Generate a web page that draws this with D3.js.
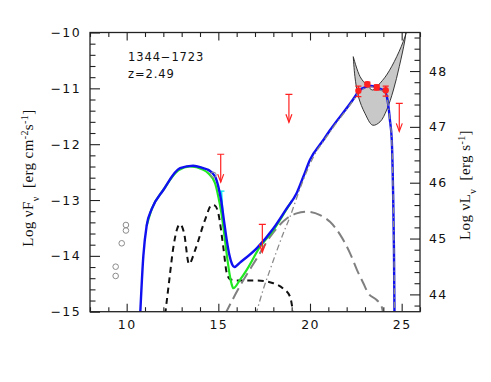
<!DOCTYPE html>
<html>
<head>
<meta charset="utf-8">
<script src="https://cdn.jsdelivr.net/npm/d3@7"></script>
<style>
  body { margin: 0; background: #fff; }
  svg { display: block; }
</style>
</head>
<body>
<script>
// log nu (Hz) vs log nuF_nu for 1344-1723, z=2.49
var xDomain = [8, 26];
var yDomain = [-15, -10];
var lumOffset = 58.69; // log nuL_nu = log nuF_nu + offset

var xMajor = [10, 15, 20, 25];
var yMajor = [-15, -14, -13, -12, -11, -10];
var lumMajor = [44, 45, 46, 47, 48];

// model components [log nu, log nuF_nu]
var totalSED = [[10.73,-15.1],[10.91,-14.0],[11.09,-13.46],[11.37,-13.16],[12.0,-12.82],[12.91,-12.43],[13.63,-12.385],[14.18,-12.43],[14.45,-12.46],[14.82,-12.58],[15.0,-12.76],[15.15,-13.0],[15.3,-13.35],[15.45,-13.7],[15.6,-13.98],[15.75,-14.15],[15.87,-14.2],[16.18,-14.12],[17.09,-13.865],[18.0,-13.51],[18.73,-13.15],[19.27,-12.88],[19.64,-12.58],[20.0,-12.28],[20.73,-11.925],[21.09,-11.75],[22.45,-11.15],[22.63,-11.06],[23.09,-10.97],[23.37,-10.958],[23.73,-11.0],[24.09,-11.06],[24.27,-11.3],[24.36,-11.57],[24.46,-11.925],[24.53,-12.82],[24.58,-13.9],[24.61,-15.1]];
var syncSED = [[11.09,-13.46],[11.37,-13.16],[12.0,-12.82],[12.82,-12.47],[13.45,-12.4],[14.18,-12.46],[14.45,-12.52],[14.82,-12.7],[15.0,-12.94],[15.15,-13.2],[15.3,-13.55],[15.45,-13.95],[15.6,-14.3],[15.72,-14.5],[15.82,-14.58],[16.18,-14.43],[16.55,-14.25],[17.27,-13.84],[18.0,-13.54],[18.64,-13.21],[19.0,-13.02]];
var diskSED = [[12.1,-15.05],[12.3,-14.5],[12.55,-13.84],[12.73,-13.54],[12.91,-13.435],[13.13,-13.59],[13.4,-14.146],[13.73,-13.9],[14.27,-13.36],[14.64,-13.09],[14.82,-13.1],[15.0,-13.24],[15.27,-13.84],[15.46,-14.31],[15.64,-14.42],[16.0,-14.44],[17.09,-14.44],[18.0,-14.49],[18.55,-14.59],[18.91,-14.73],[19.09,-15.05]];
var sscSED = [[15.36,-15.05],[16.18,-14.54],[17.09,-14.05],[17.82,-13.66],[18.73,-13.33],[19.27,-13.24],[19.82,-13.21],[20.55,-13.27],[21.09,-13.39],[21.64,-13.62],[22.18,-13.95],[22.56,-14.25],[22.91,-14.49],[23.18,-14.67],[23.64,-14.79],[23.91,-14.91],[24.0,-15.05]];
var ecSED = [[17.05,-15.05],[17.45,-14.6],[17.82,-14.25],[18.54,-13.6],[18.91,-13.3],[19.45,-12.8],[19.91,-12.42],[20.37,-12.12],[20.73,-11.95],[21.09,-11.78],[22.45,-11.17],[22.63,-11.08],[23.09,-10.99],[23.37,-10.975],[23.73,-11.015],[24.09,-11.075],[24.27,-11.31],[24.36,-11.58],[24.46,-11.93],[24.53,-12.83],[24.58,-13.9],[24.61,-15.1]];
var uvSED = [[15.17,-12.84],[15.21,-13.05],[15.25,-13.25]];

// archival data (open grey circles)
var archX = [9.96, 9.96, 9.73, 9.40, 9.40, 14.73];
var archY = [-13.447, -13.546, -13.775, -14.194, -14.36, -12.55];

// Fermi/LAT points
var fermiX = [22.64, 23.13, 23.64, 24.13];
var fermiY = [-11.042, -10.928, -10.981, -11.035];
var fermiLo = [-11.15, -10.97, -11.03, -11.14];
var fermiHi = [-10.96, -10.89, -10.94, -10.96];

// upper limits
var ulX = [15.13, 17.4, 18.85, 24.87];
var ulY = [-12.18, -13.435, -11.107, -11.27];
var ulLength = 0.5;

// Fermi butterfly
var bowUpper = [[22.36,-10.433],[22.73,-10.79],[23.09,-10.94],[23.42,-11.03],[23.73,-10.94],[24.18,-10.76],[24.73,-10.433],[25.18,-10.075],[25.4,-9.8]];
var bowLower = [[22.36,-10.433],[22.45,-10.79],[22.64,-11.15],[23.0,-11.45],[23.42,-11.66],[23.82,-11.6],[24.18,-11.39],[24.55,-11.03],[24.87,-10.61],[25.18,-10.13],[25.32,-9.8]];

var W = 491, H = 382;
var pLeft = 90, pRight = 420, pTop = 32.5, pBottom = 311.7;

var svg = d3.select("body").append("svg").attr("width", W).attr("height", H);

var x = d3.scaleLinear().domain(xDomain).range([pLeft, pRight]);
var y = d3.scaleLinear().domain(yDomain).range([pBottom, pTop]);
var yL = d3.scaleLinear().domain([yDomain[0] + lumOffset, yDomain[1] + lumOffset]).range([pBottom, pTop]);

svg.append("clipPath").attr("id", "plotClip")
    .append("rect")
    .attr("x", pLeft).attr("y", pTop)
    .attr("width", pRight - pLeft).attr("height", pBottom - pTop);

var plot = svg.append("g").attr("clip-path", "url(#plotClip)");

var line = d3.line()
    .x(function (d) { return x(d[0]); })
    .y(function (d) { return y(d[1]); })
    .curve(d3.curveMonotoneX);

// butterfly
var bow = bowUpper.concat(bowLower.slice().reverse());
plot.append("path")
    .attr("d", d3.line().x(function (d) { return x(d[0]); }).y(function (d) { return y(d[1]); }).curve(d3.curveCatmullRom)(bow) + "Z")
    .attr("fill", "#c8c8c8")
    .attr("stroke", "#222")
    .attr("stroke-width", 0.9);

plot.append("path").datum(diskSED)
    .attr("d", line).attr("fill", "none")
    .attr("stroke", "#111").attr("stroke-width", 2)
    .attr("stroke-dasharray", "6,4.5");

plot.append("path").datum(sscSED)
    .attr("d", line).attr("fill", "none")
    .attr("stroke", "#808080").attr("stroke-width", 2)
    .attr("stroke-dasharray", "12,5.5");

plot.append("path").datum(syncSED)
    .attr("d", line).attr("fill", "none")
    .attr("stroke", "#22e822").attr("stroke-width", 2.2);

plot.append("path").datum(uvSED)
    .attr("d", line).attr("fill", "none")
    .attr("stroke", "#00e5ee").attr("stroke-width", 1.6);
plot.append("line")
    .attr("x1", x(uvSED[0][0]) - 3).attr("x2", x(uvSED[0][0]) + 3)
    .attr("y1", y(uvSED[0][1])).attr("y2", y(uvSED[0][1]))
    .attr("stroke", "#00e5ee").attr("stroke-width", 1.2);

plot.append("path").datum(totalSED)
    .attr("d", line).attr("fill", "none")
    .attr("stroke", "#1010f0").attr("stroke-width", 2.4);

plot.append("path").datum(ecSED)
    .attr("d", line).attr("fill", "none")
    .attr("stroke", "#8a8a8a").attr("stroke-width", 1.3)
    .attr("stroke-dasharray", "6,3,1.5,3");

// archival points
plot.selectAll("circle.arch")
    .data(archX)
    .enter()
    .append("circle")
    .attr("class", "arch")
    .attr("cx", function (d) { return x(d); })
    .attr("cy", function (d, i) { return y(archY[i]); })
    .attr("r", 2.8)
    .attr("fill", "none")
    .attr("stroke", "#8c8c8c")
    .attr("stroke-width", 1);

var red = "#ff2020";

// Fermi points
var fermi = plot.selectAll("g.fermi")
    .data(fermiX)
    .enter()
    .append("g")
    .attr("class", "fermi");
fermi.append("line")
    .attr("x1", function (d) { return x(d); })
    .attr("x2", function (d) { return x(d); })
    .attr("y1", function (d, i) { return y(fermiLo[i]); })
    .attr("y2", function (d, i) { return y(fermiHi[i]); })
    .attr("stroke", red).attr("stroke-width", 1.3);
[fermiLo, fermiHi].forEach(function (arr) {
    fermi.append("line")
        .attr("x1", function (d) { return x(d) - 3; })
        .attr("x2", function (d) { return x(d) + 3; })
        .attr("y1", function (d, i) { return y(arr[i]); })
        .attr("y2", function (d, i) { return y(arr[i]); })
        .attr("stroke", red).attr("stroke-width", 1.3);
});
fermi.append("circle")
    .attr("cx", function (d) { return x(d); })
    .attr("cy", function (d, i) { return y(fermiY[i]); })
    .attr("r", 3.2)
    .attr("fill", red);

// upper limits
var ul = plot.selectAll("g.ul")
    .data(ulX)
    .enter()
    .append("g")
    .attr("class", "ul");
ul.append("line")
    .attr("x1", function (d) { return x(d); })
    .attr("x2", function (d) { return x(d); })
    .attr("y1", function (d, i) { return y(ulY[i]); })
    .attr("y2", function (d, i) { return y(ulY[i] - ulLength); })
    .attr("stroke", red).attr("stroke-width", 1.2);
ul.append("line")
    .attr("x1", function (d) { return x(d) - 3.5; })
    .attr("x2", function (d) { return x(d) + 3.5; })
    .attr("y1", function (d, i) { return y(ulY[i]); })
    .attr("y2", function (d, i) { return y(ulY[i]); })
    .attr("stroke", red).attr("stroke-width", 1.2);
ul.append("path")
    .attr("d", function (d, i) {
        var tx = x(d), ty = y(ulY[i] - ulLength);
        return "M" + (tx - 3) + "," + (ty - 8) + "L" + tx + "," + ty + "L" + (tx + 3) + "," + (ty - 8);
    })
    .attr("fill", "none")
    .attr("stroke", red).attr("stroke-width", 1.2);

// axes
function fmt(d) { return d < 0 ? "\u2212" + Math.abs(d) : String(d); }
function range(a, b, s) {
    var out = [];
    for (var v = a; v <= b + 1e-9; v += s) out.push(Math.round(v * 10) / 10);
    return out;
}
var xMinor = range(8, 26, 1).filter(function (d) { return xMajor.indexOf(d) < 0; });
var yMinor = range(-15, -10, 0.2).filter(function (d) { return Math.abs(d - Math.round(d)) > 1e-6; });
var lumMinor = range(43.8, 48.6, 0.2).filter(function (d) { return Math.abs(d - Math.round(d)) > 1e-6; });

function styleAxis(g) {
    g.select(".domain").remove();
    g.selectAll(".tick line").attr("stroke", "#222").attr("stroke-width", 1.1);
    g.selectAll("text")
        .attr("fill", "#111")
        .attr("font-family", "DejaVu Sans, sans-serif")
        .attr("font-size", 12.5)
        .attr("letter-spacing", 1.4);
}

svg.append("g").attr("transform", "translate(0," + pBottom + ")")
    .call(d3.axisBottom(x).tickValues(xMinor).tickSize(-4.5).tickFormat(""))
    .call(styleAxis);
svg.append("g").attr("transform", "translate(0," + pBottom + ")")
    .call(d3.axisBottom(x).tickValues(xMajor).tickSize(-8).tickPadding(8).tickFormat(fmt))
    .call(styleAxis);
svg.append("g").attr("transform", "translate(0," + pTop + ")")
    .call(d3.axisTop(x).tickValues(xMinor).tickSize(-4.5).tickFormat(""))
    .call(styleAxis);
svg.append("g").attr("transform", "translate(0," + pTop + ")")
    .call(d3.axisTop(x).tickValues(xMajor).tickSize(-8).tickFormat(""))
    .call(styleAxis);

svg.append("g").attr("transform", "translate(" + pLeft + ",0)")
    .call(d3.axisLeft(y).tickValues(yMinor).tickSize(-5.5).tickFormat(""))
    .call(styleAxis);
svg.append("g").attr("transform", "translate(" + pLeft + ",0)")
    .call(d3.axisLeft(y).tickValues(yMajor).tickSize(-10).tickPadding(9).tickFormat(fmt))
    .call(styleAxis);

svg.append("g").attr("transform", "translate(" + pRight + ",0)")
    .call(d3.axisRight(yL).tickValues(lumMinor).tickSize(-5.5).tickFormat(""))
    .call(styleAxis);
svg.append("g").attr("transform", "translate(" + pRight + ",0)")
    .call(d3.axisRight(yL).tickValues(lumMajor).tickSize(-10).tickPadding(9).tickFormat(fmt))
    .call(styleAxis);

svg.append("rect")
    .attr("x", pLeft).attr("y", pTop)
    .attr("width", pRight - pLeft).attr("height", pBottom - pTop)
    .attr("fill", "none")
    .attr("stroke", "#222")
    .attr("stroke-width", 1.3);

// labels
svg.append("text")
    .attr("x", 128).attr("y", 61)
    .attr("font-family", "DejaVu Sans, sans-serif")
    .attr("font-size", 11.5).attr("letter-spacing", 0.9)
    .attr("fill", "#111")
    .text("1344\u22121723");
svg.append("text")
    .attr("x", 128).attr("y", 78)
    .attr("font-family", "DejaVu Sans, sans-serif")
    .attr("font-size", 11.5).attr("letter-spacing", 0.9)
    .attr("fill", "#111")
    .text("z=2.49");

var yTitle = svg.append("text")
    .attr("transform", "translate(33,178) rotate(-90)")
    .attr("text-anchor", "middle")
    .attr("font-family", "Liberation Serif, serif")
    .attr("font-size", 15)
    .attr("letter-spacing", 0.4)
    .attr("fill", "#111");
yTitle.append("tspan").text("Log \u03bdF");
yTitle.append("tspan").attr("baseline-shift", "sub").attr("font-size", 10).text("\u03bd");
yTitle.append("tspan").text("\u00a0\u00a0[erg cm");
yTitle.append("tspan").attr("baseline-shift", "super").attr("font-size", 10).text("-2");
yTitle.append("tspan").text("s");
yTitle.append("tspan").attr("baseline-shift", "super").attr("font-size", 10).text("-1");
yTitle.append("tspan").text("]");

var lTitle = svg.append("text")
    .attr("transform", "translate(470,185) rotate(-90)")
    .attr("text-anchor", "middle")
    .attr("font-family", "Liberation Serif, serif")
    .attr("font-size", 15)
    .attr("letter-spacing", 0.4)
    .attr("fill", "#111");
lTitle.append("tspan").text("Log \u03bdL");
lTitle.append("tspan").attr("baseline-shift", "sub").attr("font-size", 10).text("\u03bd");
lTitle.append("tspan").text("\u00a0\u00a0[erg s");
lTitle.append("tspan").attr("baseline-shift", "super").attr("font-size", 10).text("-1");
lTitle.append("tspan").text("]");
</script>
</body>
</html>
